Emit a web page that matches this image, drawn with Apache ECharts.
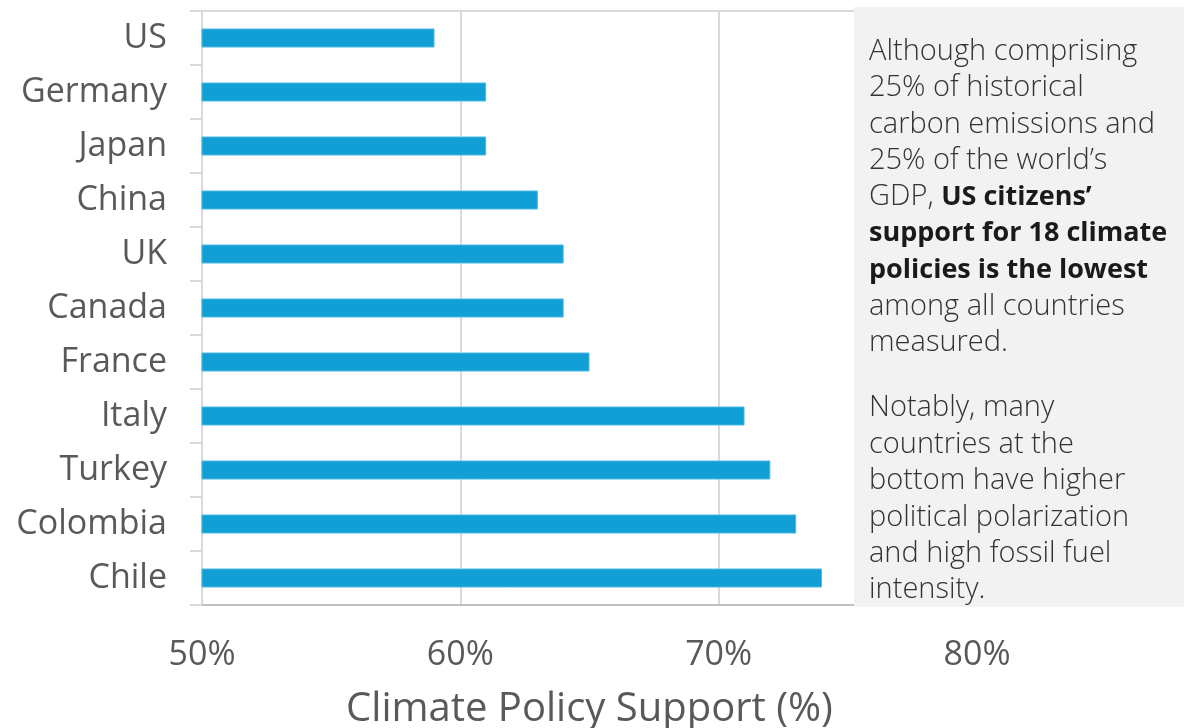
<!DOCTYPE html>
<html>
<head>
<meta charset="utf-8">
<script src="https://cdn.jsdelivr.net/npm/echarts@6/dist/echarts.min.js"></script>
<style>
  html, body { margin: 0; padding: 0; background: #fff; }
  #chart { width: 1184px; height: 728px; }
</style>
</head>
<body>
<div id="chart"></div>
<script>
var countries = ['US', 'Germany', 'Japan', 'China', 'UK', 'Canada', 'France', 'Italy', 'Turkey', 'Colombia', 'Chile'];
var support = [59, 61, 61, 63, 64, 64, 65, 71, 72, 73, 74];
var ticks = [50, 60, 70, 80];

var noteLines = [
  '{n|Although comprising}',
  '{n|25% of historical}',
  '{n|carbon emissions and}',
  '{n|25% of the world\u2019s}',
  '{n|GDP, }{b|US citizens\u2019}',
  '{b|support for 18 climate}',
  '{b|policies is the lowest}',
  '{n|among all countries}',
  '{n|measured.}',
  '{g|}',
  '{n|Notably, many}',
  '{n|countries at the}',
  '{n|bottom have higher}',
  '{n|political polarization}',
  '{n|and high fossil fuel}',
  '{n|intensity.}'
];

var chart = echarts.init(document.getElementById('chart'));

var option = {
  animation: false,
  grid: { left: 202, right: 207, top: 11, bottom: 123, outerBoundsMode: 'none' },
  xAxis: [{
    type: 'value',
    min: 50,
    max: 80,
    interval: 10,
    name: 'Climate Policy Support (%)',
    nameLocation: 'middle',
    nameGap: 85,
    nameTextStyle: { fontFamily: 'Open Sans', fontSize: 40, color: '#595959' },
    axisLine: { show: true, lineStyle: { color: '#bfbfbf', width: 2 } },
    axisTick: { show: false },
    axisLabel: {
      margin: 33,
      fontFamily: 'Open Sans',
      fontSize: 34,
      color: '#595959',
      formatter: function (v) { return ticks.indexOf(v) >= 0 ? v + '%' : ''; }
    },
    splitLine: { show: true, lineStyle: { color: '#d9d9d9', width: 2 } }
  }, {
    type: 'value',
    position: 'top',
    min: 50,
    max: 80,
    axisLine: { show: true, lineStyle: { color: '#d9d9d9', width: 2 } },
    axisTick: { show: false },
    axisLabel: { show: false },
    splitLine: { show: false }
  }],
  yAxis: {
    type: 'category',
    inverse: true,
    data: countries,
    axisLine: { show: true, lineStyle: { color: '#d9d9d9', width: 2 } },
    axisTick: { show: true, length: 12, lineStyle: { color: '#d9d9d9', width: 2 } },
    axisLabel: {
      margin: 35,
      fontFamily: 'Open Sans',
      fontSize: 34,
      color: '#595959'
    }
  },
  series: [{
    type: 'bar',
    data: support,
    barWidth: 19,
    itemStyle: { color: '#119fd6', borderColor: '#4db8e3', borderWidth: 1 }
  }],
  graphic: [{
    type: 'rect',
    z: 100,
    shape: { x: 854, y: 7, width: 330, height: 600 },
    style: { fill: '#f2f2f2' }
  }, {
    type: 'text',
    z: 101,
    left: 869,
    top: 37,
    style: {
      text: noteLines.join('\n'),
      fill: '#262626',
      rich: {
        n: { fontFamily: 'Open Sans', fontSize: 29, fontWeight: 300, lineHeight: 36.4, fill: '#333333' },
        b: { fontFamily: 'Open Sans', fontSize: 27, fontWeight: 'bold', lineHeight: 36.4, fill: '#1a1a1a' },
        g: { fontSize: 10, lineHeight: 29 }
      }
    }
  }]
};

chart.setOption(option);
</script>
</body>
</html>
